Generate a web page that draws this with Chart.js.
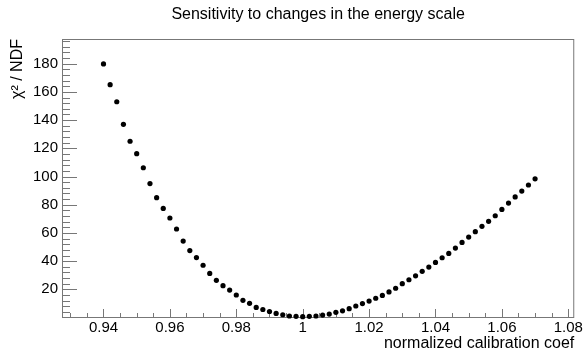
<!DOCTYPE html>
<html>
<head>
<meta charset="utf-8">
<script src="https://cdn.jsdelivr.net/npm/chart.js@4"></script>
<style>
  html, body { margin: 0; padding: 0; background: #fff; }
  #wrap { width: 585px; height: 353px; }
</style>
</head>
<body>
<div id="wrap"><canvas id="chi2Chart" width="585" height="353"></canvas></div>
<script>
// energy scale scan
const calibCoef = [
  0.940, 0.942, 0.944, 0.946, 0.948, 0.950, 0.952, 0.954, 0.956, 0.958,
  0.960, 0.962, 0.964, 0.966, 0.968, 0.970, 0.972, 0.974, 0.976, 0.978,
  0.980, 0.982, 0.984, 0.986, 0.988, 0.990, 0.992, 0.994, 0.996, 0.998,
  1.000, 1.002, 1.004, 1.006, 1.008, 1.010, 1.012, 1.014, 1.016, 1.018,
  1.020, 1.022, 1.024, 1.026, 1.028, 1.030, 1.032, 1.034, 1.036, 1.038,
  1.040, 1.042, 1.044, 1.046, 1.048, 1.050, 1.052, 1.054, 1.056, 1.058,
  1.060, 1.062, 1.064, 1.066, 1.068, 1.070
];
const chi2PerNdf = [
  179.8, 165.1, 153.0, 137.0, 125.0, 116.2, 106.2, 95.0, 85.0, 77.4,
  70.6, 62.8, 54.2, 47.5, 42.5, 37.1, 31.3, 26.4, 22.6, 19.5,
  16.0, 12.2, 10.1, 7.2, 5.7, 4.3, 2.9, 2.0, 1.1, 0.9,
  0.6, 0.9, 1.1, 1.8, 2.5, 3.7, 4.8, 6.3, 8.2, 9.9,
  11.7, 13.7, 15.7, 18.2, 20.8, 24.0, 26.8, 29.6, 32.8, 35.8,
  39.1, 42.4, 45.5, 49.3, 53.3, 57.1, 60.9, 64.7, 68.2, 72.2,
  76.7, 81.2, 85.5, 89.7, 94.0, 98.4
];
const xTickLabels = [0.94, 0.96, 0.98, 1.00, 1.02, 1.04, 1.06, 1.08];
const yTickLabels = [20, 40, 60, 80, 100, 120, 140, 160, 180];

const FONT = "'Liberation Sans', Arial, Helvetica, sans-serif";
const AXIS_COLOR = '#777';

// ROOT style frame with ticks pointing inward
const rootFrame = {
  id: 'rootFrame',
  beforeDatasetsDraw(chart) {
    const { ctx, chartArea: a, scales: { x, y } } = chart;
    ctx.save();
    ctx.strokeStyle = AXIS_COLOR;
    ctx.lineWidth = 1;
    ctx.strokeRect(a.left + 0.5, a.top + 0.5, a.right - a.left - 1, a.bottom - a.top);
    ctx.beginPath();
    // y ticks: major every 20, minor every 4
    for (let v = 4; v < y.max; v += 4) {
      const py = Math.round(y.getPixelForValue(v)) + 0.5;
      const len = (v % 20 === 0) ? 15 : 8;
      ctx.moveTo(a.left, py); ctx.lineTo(a.left + len, py);
    }
    // x ticks: major every 0.02, minor every 0.005
    for (let i = 186; i * 0.005 < x.max; i++) {
      const v = i * 0.005;
      if (v < x.min) continue;
      const px = Math.round(x.getPixelForValue(v)) + 0.5;
      const len = (i % 4 === 0) ? 8 : 4;
      ctx.moveTo(px, a.bottom); ctx.lineTo(px, a.bottom - len);
    }
    ctx.stroke();
    ctx.restore();
  }
};

new Chart(document.getElementById('chi2Chart'), {
  type: 'scatter',
  data: {
    datasets: [{
      label: 'chi2/NDF',
      data: calibCoef.map((c, i) => ({ x: c, y: chi2PerNdf[i] })),
      backgroundColor: '#000',
      borderWidth: 0,
      pointRadius: 2.6,
      clip: false
    }]
  },
  options: {
    responsive: false,
    animation: false,
    layout: { padding: { left: 0, right: 10, top: 0, bottom: 0 } },
    plugins: {
      legend: { display: false },
      tooltip: { enabled: false },
      title: {
        display: true,
        text: 'Sensitivity to changes in the energy scale',
        fullSize: false,
        color: '#000',
        font: { family: FONT, size: 16, weight: 'normal' },
        padding: { top: 5, bottom: 14.8 }
      }
    },
    scales: {
      x: {
        type: 'linear',
        min: 0.9275,
        max: 1.0818,
        afterBuildTicks: s => { s.ticks = xTickLabels.map(v => ({ value: v })); },
        afterFit: s => { s.height = 36; },
        grid: { display: false, drawTicks: false },
        border: { display: false },
        ticks: {
          color: '#000',
          padding: 2,
          maxRotation: 0,
          font: { family: FONT, size: 15 },
          callback: v => String(+v.toFixed(2))
        },
        title: {
          display: true,
          text: 'normalized calibration coef',
          align: 'end',
          color: '#000',
          font: { family: FONT, size: 16 },
          padding: 0
        }
      },
      y: {
        type: 'linear',
        min: 0.4,
        max: 197.5,
        afterBuildTicks: s => { s.ticks = yTickLabels.map(v => ({ value: v })); },
        afterFit: s => { s.width = 62; },
        grid: { display: false, drawTicks: false },
        border: { display: false },
        ticks: {
          color: '#000',
          padding: 4,
          font: { family: FONT, size: 15 }
        },
        title: {
          display: true,
          text: 'χ² / NDF',
          align: 'end',
          color: '#000',
          font: { family: FONT, size: 16 },
          padding: { top: 8, bottom: 0 }
        }
      }
    }
  },
  plugins: [rootFrame]
});
</script>
</body>
</html>
